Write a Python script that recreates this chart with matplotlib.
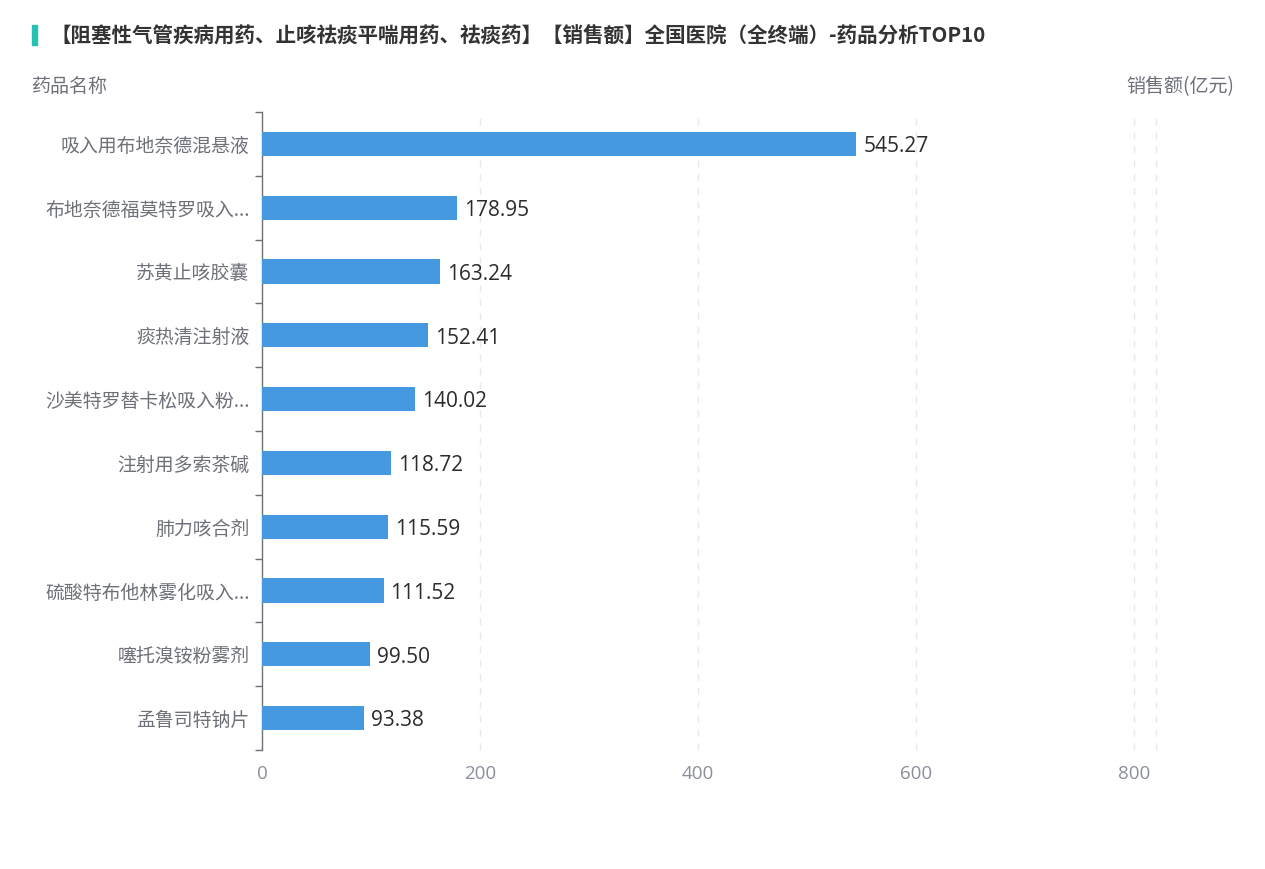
import matplotlib
matplotlib.use("Agg")
import matplotlib.pyplot as plt
from matplotlib.patches import Rectangle

plt.rcParams['font.family'] = ['Noto Sans CJK SC', 'DejaVu Sans']

categories = ["吸入用布地奈德混悬液", "布地奈德福莫特罗吸入...", "苏黄止咳胶囊", "痰热清注射液",
              "沙美特罗替卡松吸入粉...", "注射用多索茶碱", "肺力咳合剂", "硫酸特布他林雾化吸入...",
              "噻托溴铵粉雾剂", "孟鲁司特钠片"]
values = [545.27, 178.95, 163.24, 152.41, 140.02, 118.72, 115.59, 111.52, 99.50, 93.38]
x_ticks = [0, 200, 400, 600, 800]
title = "【阻塞性气管疾病用药、止咳祛痰平喘用药、祛痰药】【销售额】全国医院（全终端）-药品分析TOP10"

fig = plt.figure(figsize=(12.65, 8.69), dpi=100)
ax = fig.add_axes([262/1265, 1-750/869, (1156-262)/1265, (750-112)/869])

n = len(categories)
ypos = list(range(n))
ax.barh(ypos, values, height=0.38, color='#4599e0', zorder=3)
for y, v in zip(ypos, values):
    ax.annotate(f"{v:.2f}", xy=(v, y), xytext=(5, -2), textcoords='offset points',
                va='center', ha='left', fontsize=15, color='#2b2b2b', zorder=4,
                family=['Open Sans', 'DejaVu Sans'])

ax.set_ylim(n - 0.5, -0.5)
ax.set_xlim(0, 820)

ax.set_yticks(ypos)
ax.set_yticklabels(categories, fontsize=13.6, color='#6e7079')
ax.tick_params(axis='y', length=0, pad=9)
ax.set_yticks([i - 0.5 for i in range(n + 1)], minor=True)
ax.tick_params(axis='y', which='minor', length=5, color='#6e7079', width=1)

ax.set_xticks(x_ticks)
ax.set_xticklabels([str(t) for t in x_ticks], fontsize=13.5, color='#8a8f99',
                   family=['Open Sans', 'DejaVu Sans'])
ax.tick_params(axis='x', length=0, pad=11)

for t in x_ticks[1:] + [820]:
    ax.axvline(t, color='#e6eaec', linestyle=(0, (5, 5)), linewidth=1, zorder=1, clip_on=False)

for s in ['top', 'right', 'bottom']:
    ax.spines[s].set_visible(False)
ax.spines['left'].set_color('#6e7079')
ax.spines['left'].set_linewidth(1)

fig.text(50/1265, 1-35/869, title, fontsize=14.8, fontweight='bold', color='#333333', va='center', ha='left')
fig.patches.append(Rectangle((32/1265, 1-45/869), 5/1265, 20/869, transform=fig.transFigure,
                             color='#26c1b0', figure=fig))
fig.text(32/1265, 1-87/869, "药品名称", fontsize=13.7, color='#6e7079', va='center', ha='left')
fig.text(1234/1265, 1-87/869, "销售额(亿元)", fontsize=13.7, color='#6e7079', va='center', ha='right')

fig.savefig("out.png", dpi=100, facecolor='white')
